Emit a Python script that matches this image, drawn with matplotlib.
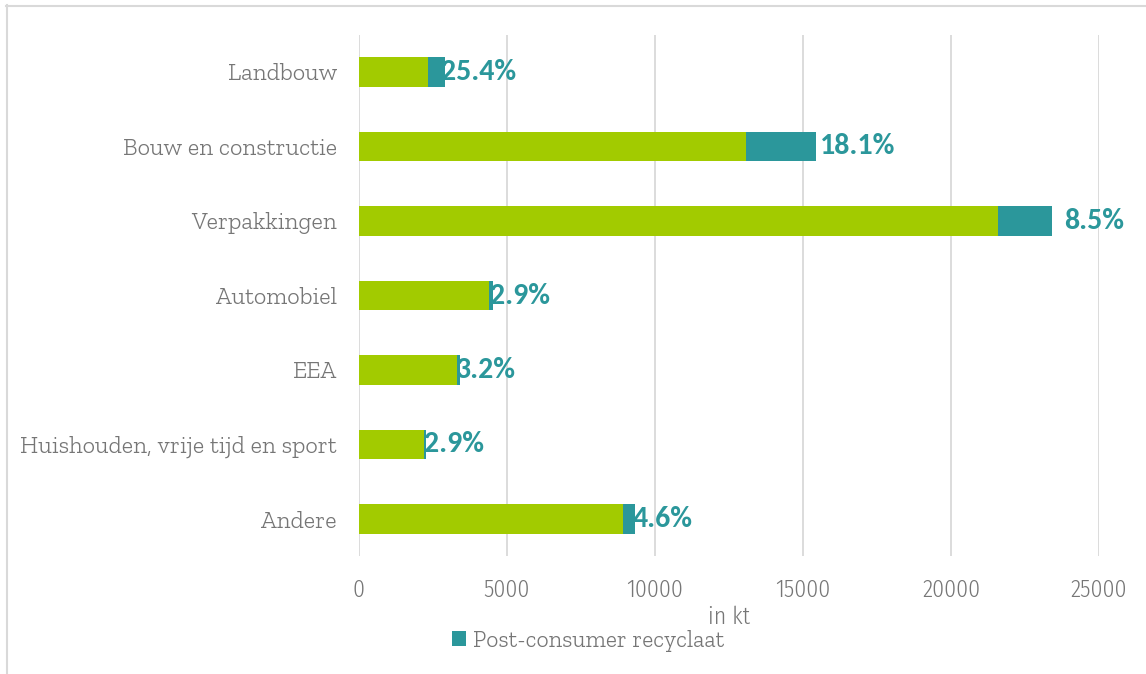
import matplotlib
matplotlib.use('Agg')
import matplotlib.pyplot as plt
from matplotlib.lines import Line2D
import numpy as np

# kunststofverbruik per sector (kt) en aandeel post-consumer recyclaat
sectoren = ['Landbouw', 'Bouw en constructie', 'Verpakkingen', 'Automobiel',
            'EEA', 'Huishouden, vrije tijd en sport', 'Andere']
virgin_kt = [2320, 13060, 21580, 4400, 3300, 2200, 8910]
recyclaat_pct = [25.4, 18.1, 8.5, 2.9, 3.2, 2.9, 4.6]

recyclaat_kt = [v * p / 100 for v, p in zip(virgin_kt, recyclaat_pct)]

GREEN = '#A2CB00'
TEAL = '#2B979B'
GREY_TXT = '#767676'
GRID = '#D9D9D9'

serif = ['Zilla Slab', 'DejaVu Serif']
cond = ['Fira Sans Condensed', 'DejaVu Sans']
bold = ['Carlito', 'Lato', 'DejaVu Sans']

fig = plt.figure(figsize=(11.46, 6.74), dpi=100)
ax = fig.add_axes([359 / 1146, 1 - 556.25 / 674, 740 / 1146, 521.5 / 674])

y = np.arange(len(sectoren))
ax.barh(y, virgin_kt, height=0.4, color=GREEN, zorder=3)
ax.barh(y, recyclaat_kt, left=virgin_kt, height=0.4, color=TEAL, zorder=3,
        label='Post-consumer recyclaat')

# percentage labels next to the bars (small nudges in pixels)
nudge_px = [-4, 4, 12, -3, -4, -2, -2]
for i in range(len(sectoren)):
    tot = virgin_kt[i] + recyclaat_kt[i]
    ax.annotate(f'{recyclaat_pct[i]:.1f}%', xy=(tot, y[i]),
                xytext=(nudge_px[i] * 0.72, 0), textcoords='offset points',
                ha='left', va='center', color=TEAL, fontsize=21.5,
                fontweight='bold', family=bold, zorder=4)

ax.set_xlim(0, 25000)
ax.set_xticks(range(0, 25001, 5000))
ax.set_ylim(len(sectoren) - 0.5, -0.5)
ax.set_yticks(y)
ax.set_yticklabels(sectoren, family=serif, fontweight=300, fontsize=17.5, color=GREY_TXT)
for lbl in ax.get_xticklabels():
    lbl.set_family(cond)
    lbl.set_fontweight(300)
    lbl.set_fontsize(17)
    lbl.set_color(GREY_TXT)
ax.tick_params(axis='x', length=0, pad=16)
ax.tick_params(axis='y', length=0, pad=16)

ax.grid(axis='x', color=GRID, linewidth=1.3, zorder=0)
ax.grid(axis='y', visible=False)
for s in ax.spines.values():
    s.set_visible(False)

ax.set_xlabel('in kt', family=cond, fontweight=300, fontsize=17, color=GREY_TXT, labelpad=3)

leg = fig.legend(loc='center', bbox_to_anchor=(588 / 1146, 1 - 641 / 674), frameon=False,
                 handlelength=0.6, handleheight=0.6, handletextpad=0.3,
                 prop={'family': serif, 'weight': 300, 'size': 17})
for t in leg.get_texts():
    t.set_color(GREY_TXT)

# outer frame (top and left edge)
fig.add_artist(Line2D([6 / 1146, 1], [1 - 5.5 / 674] * 2, transform=fig.transFigure,
                      color=GRID, linewidth=1.5))
fig.add_artist(Line2D([6.5 / 1146] * 2, [0, 1 - 5 / 674], transform=fig.transFigure,
                      color=GRID, linewidth=1.5))

fig.savefig('out.png', dpi=100)
